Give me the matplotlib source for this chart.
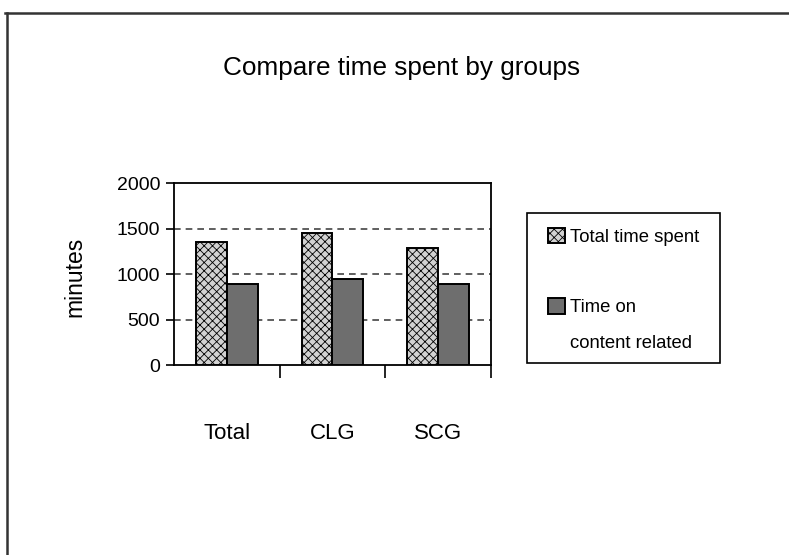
import matplotlib
matplotlib.use("Agg")
import matplotlib.pyplot as plt
from matplotlib.patches import Patch, Rectangle
from matplotlib.lines import Line2D
import numpy as np

plt.rcParams['font.family'] = ['Liberation Sans', 'DejaVu Sans']
plt.rcParams['hatch.linewidth'] = 0.6

groups = ['Total', 'CLG', 'SCG']
total_time = [1355, 1455, 1290]
content_time = [895, 940, 885]
series_names = ['Total time spent', 'Time on\ncontent related']
y_ticks = [0, 500, 1000, 1500, 2000]

W, H = 789, 555
fig = plt.figure(figsize=(W / 100, H / 100), dpi=100)
fig.patch.set_facecolor('white')

# outer frame (top and left edges only show)
fig.add_artist(Line2D([5 / W, 1.0], [1 - 13 / H, 1 - 13 / H],
                      transform=fig.transFigure, color='#333333', lw=1.8))
fig.add_artist(Line2D([7 / W, 7 / W], [1 - 13 / H, 0.0],
                      transform=fig.transFigure, color='#333333', lw=1.8))

ax = fig.add_axes([174 / W, 1 - 365 / H, 317 / W, 182 / H])

x = np.arange(len(groups))
w = 0.293
ax.bar(x - w / 2, total_time, w, facecolor='#d2d2d2', edgecolor='black',
       hatch='xxxx', lw=1.4, zorder=3)
ax.bar(x + w / 2, content_time, w, facecolor='#6e6e6e', edgecolor='black',
       lw=1.4, zorder=3)

ax.set_xlim(-0.5, 2.5)
ax.set_ylim(0, 2000)
ax.set_yticks(y_ticks)
ax.tick_params(axis='y', labelsize=14, length=6, width=1.2, pad=4,
               direction='out')

# group labels sit well below the axis, tick marks between groups
ax.set_xticks(x)
ax.set_xticklabels(groups, fontsize=16)
ax.tick_params(axis='x', length=0, pad=42)
ax.set_xticks([0.5, 1.5, 2.5], minor=True)
ax.tick_params(axis='x', which='minor', length=9, width=1.2, direction='out')

for v in y_ticks[1:-1]:
    ax.axhline(v, color='#444444', lw=1.2, ls=(0, (4, 3)), zorder=1)

for s in ax.spines.values():
    s.set_linewidth(1.3)

fig.text(75 / W, 1 - 277 / H, 'minutes', rotation=90, ha='center',
         va='center', fontsize=16.5)
fig.text(402 / W, 1 - 68 / H, 'Compare time spent by groups',
         ha='center', va='center', fontsize=18.8)

# legend box drawn on its own, entries placed inside it
fig.add_artist(Rectangle((527 / W, 1 - 363 / H), 193 / W, 150 / H,
                         transform=fig.transFigure, fill=False,
                         edgecolor='black', lw=1.2))
blank = Rectangle((0, 0), 1, 1, fill=False, edgecolor='none', visible=False)
handles = [Patch(facecolor='#d2d2d2', edgecolor='black', hatch='xxxx', lw=1.4),
           blank,
           Patch(facecolor='#6e6e6e', edgecolor='black', lw=1.4),
           blank]
labels = [series_names[0], ' '] + series_names[1].split('\n')
leg = fig.legend(handles, labels, loc='upper left',
                 bbox_to_anchor=(542 / W, 1 - 222 / H),
                 fontsize=13.3, frameon=False,
                 handlelength=0.92, handleheight=0.92,
                 handletextpad=0.32, labelspacing=0.93, borderpad=0.3,
                 borderaxespad=0)

fig.savefig('out.png', dpi=100)
